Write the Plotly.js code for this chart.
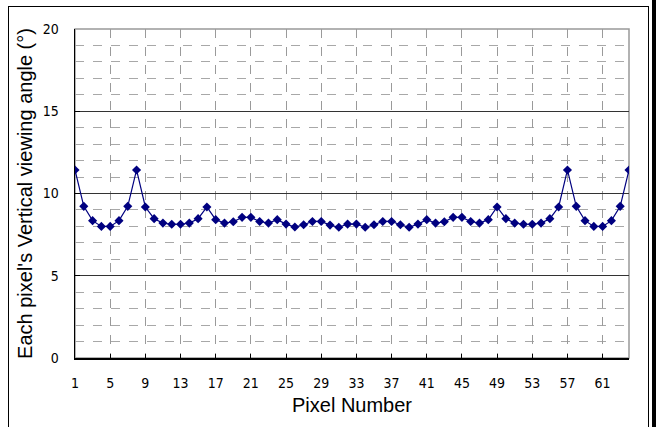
<!DOCTYPE html>
<html>
<head>
<meta charset="utf-8">
<script src="https://cdn.plot.ly/plotly-3.0.1.min.js"></script>
<style>
html,body{margin:0;padding:0;background:#fff;}
#wrap{position:relative;width:656px;height:427px;overflow:hidden;}
#chart{position:absolute;left:0;top:0;width:656px;height:427px;}
#frame{position:absolute;left:8px;top:6px;width:641px;height:440px;border:1px solid #000;box-sizing:border-box;pointer-events:none;}
#edge{position:absolute;left:652px;top:0;width:4px;height:427px;background:#000;pointer-events:none;}
</style>
</head>
<body>
<div id="wrap">
<div id="chart"></div>
<div id="frame"></div>
<div id="edge"></div>
</div>
<script>
const pixelNumbers = Array.from({length: 64}, (_, i) => i + 1);
const viewingAngle = [
  11.43, 9.22, 8.35, 8.00, 8.00, 8.35, 9.22, 11.43,
  9.18, 8.47, 8.20, 8.13, 8.13, 8.20, 8.47, 9.18,
  8.41, 8.20, 8.28, 8.55, 8.55, 8.30, 8.20, 8.41,
  8.14, 7.96, 8.10, 8.30, 8.30, 8.08, 7.95, 8.14,
  8.14, 7.95, 8.10, 8.30, 8.30, 8.10, 7.95, 8.14,
  8.41, 8.20, 8.28, 8.55, 8.55, 8.30, 8.20, 8.41,
  9.18, 8.47, 8.20, 8.13, 8.13, 8.20, 8.47, 9.18,
  11.43, 9.22, 8.35, 8.00, 8.00, 8.35, 9.22, 11.43
];
const xTickVals = [1, 5, 9, 13, 17, 21, 25, 29, 33, 37, 41, 45, 49, 53, 57, 61];
const yTickVals = [0, 5, 10, 15, 20];

const tickFont = {family: '"DejaVu Sans Condensed", "Liberation Sans Narrow", "Liberation Sans", sans-serif', size: 14, color: '#000'};
const titleFont = {family: '"Liberation Sans", Arial, sans-serif', size: 20, color: '#000'};

Plotly.newPlot('chart', [{
  x: pixelNumbers,
  y: viewingAngle,
  type: 'scatter',
  mode: 'lines+markers',
  line: {color: '#000080', width: 1.2},
  marker: {symbol: 'diamond', size: 7, color: '#000080'},
  hoverinfo: 'x+y'
}], {
  width: 656, height: 427,
  margin: {l: 75, r: 27, t: 29, b: 69},
  paper_bgcolor: '#fff', plot_bgcolor: '#fff',
  showlegend: false,
  xaxis: {
    range: [1, 64],
    tickvals: xTickVals,
    ticktext: xTickVals.map(String),
    tickfont: tickFont,
    ticks: 'inside', ticklen: 4, tickcolor: '#000',
    showline: true, linecolor: '#000', linewidth: 1.5,
    showgrid: true, gridcolor: '#9a9a9a', griddash: 'dash', gridwidth: 1,
    zeroline: false,
    ticklabelstandoff: 12,
    title: {text: 'Pixel Number', font: titleFont, standoff: 7}
  },
  yaxis: {
    range: [0, 20],
    tickvals: yTickVals,
    tickfont: tickFont,
    ticks: 'inside', ticklen: 5, tickcolor: '#000',
    showline: true, linecolor: '#000', linewidth: 1.5,
    showgrid: true, gridcolor: '#333', gridwidth: 1,
    zeroline: false,
    ticklabelstandoff: 12,
    minor: {dtick: 1, showgrid: true, gridcolor: '#a8a8a8', griddash: 'dash', gridwidth: 1},
    title: {text: "Each pixel's Vertical viewing angle (°)", font: titleFont, standoff: 4}
  },
  shapes: [{
    type: 'rect', xref: 'paper', yref: 'paper', x0: 0, x1: 1, y0: 0, y1: 1,
    line: {color: '#999', width: 1.5}, layer: 'below'
  }]
}, {displayModeBar: false, staticPlot: true});
</script>
</body>
</html>
